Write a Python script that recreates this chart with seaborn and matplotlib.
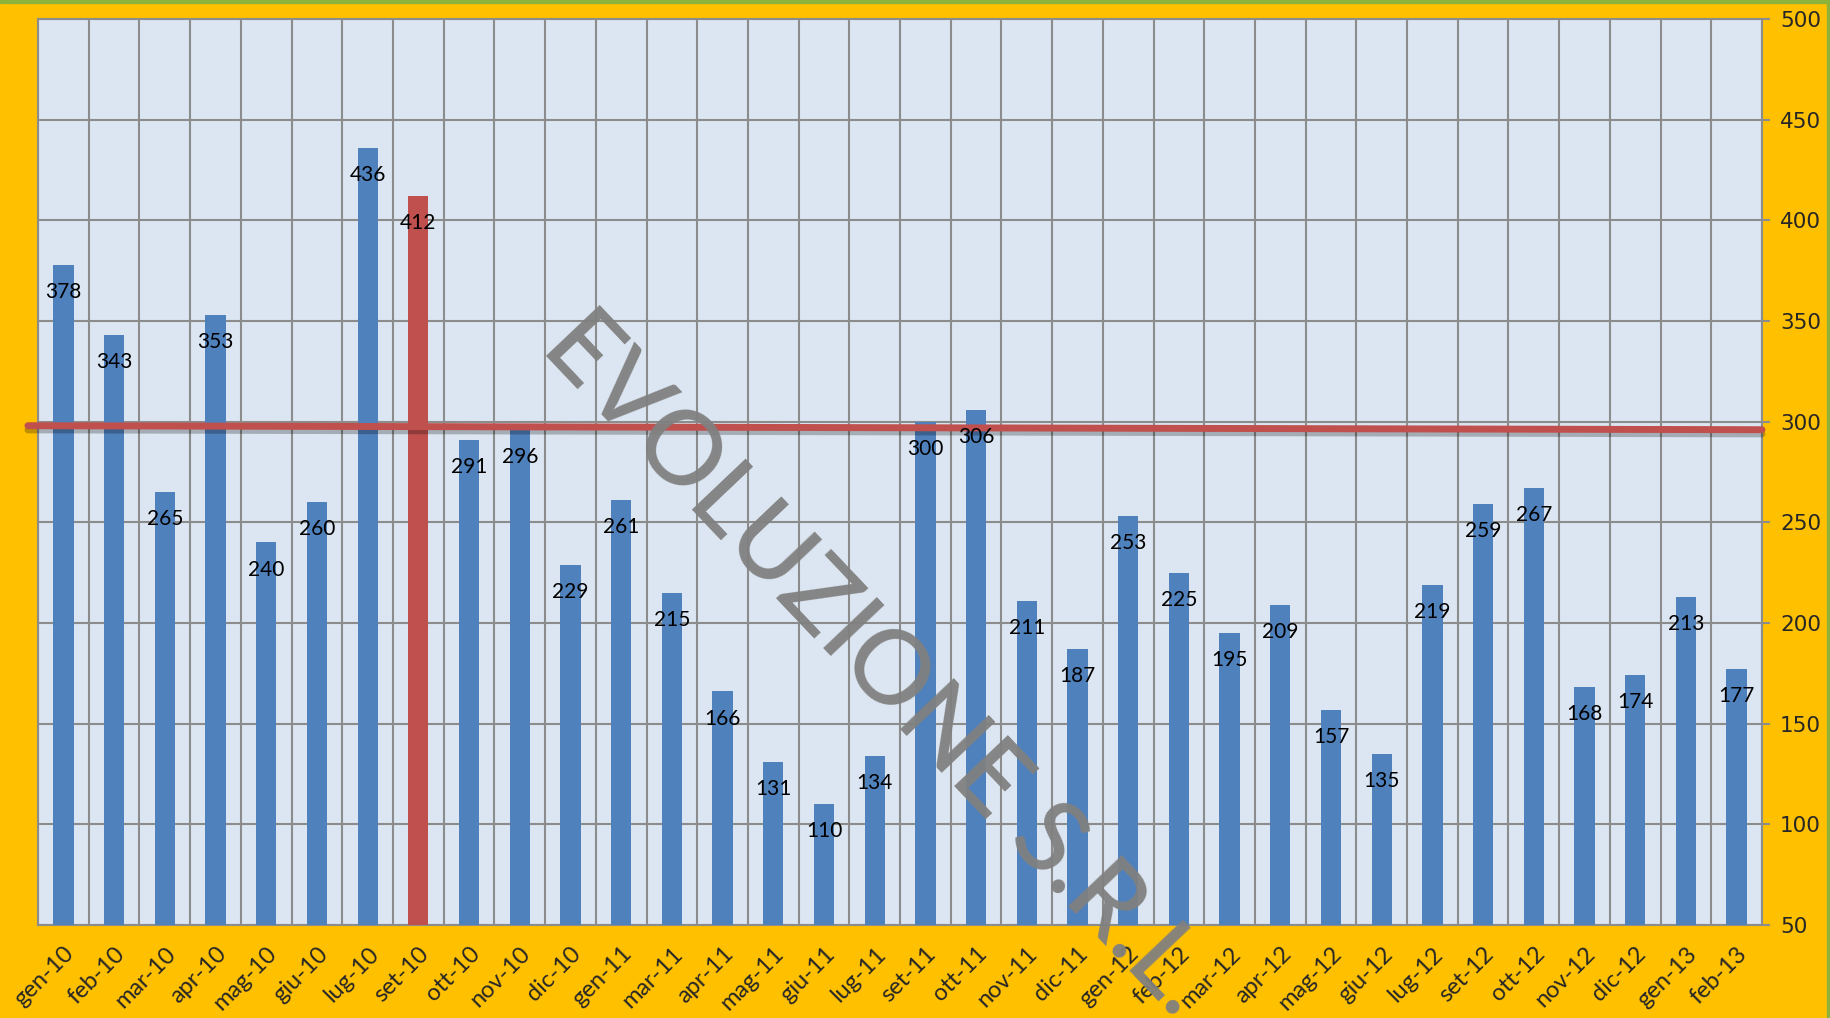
import matplotlib
matplotlib.use('Agg')
import matplotlib.pyplot as plt
import matplotlib.patheffects as pe
from matplotlib.patches import Rectangle
import seaborn as sns
import pandas as pd

# Data
months = ['gen-10', 'feb-10', 'mar-10', 'apr-10', 'mag-10', 'giu-10', 'lug-10', 'set-10',
          'ott-10', 'nov-10', 'dic-10', 'gen-11', 'mar-11', 'apr-11', 'mag-11', 'giu-11',
          'lug-11', 'set-11', 'ott-11', 'nov-11', 'dic-11', 'gen-12', 'feb-12', 'mar-12',
          'apr-12', 'mag-12', 'giu-12', 'lug-12', 'set-12', 'ott-12', 'nov-12', 'dic-12',
          'gen-13', 'feb-13']
values = [378, 343, 265, 353, 240, 260, 436, 412, 291, 296, 229, 261, 215, 166, 131, 110,
          134, 300, 306, 211, 187, 253, 225, 195, 209, 157, 135, 219, 259, 267, 168, 174,
          213, 177]
highlight = 'set-10'
ref_line = [298, 296]  # red reference line, left / right end
yticks = list(range(50, 501, 50))

BLUE = '#4F81BD'
RED = '#C0504D'
ORANGE = '#FFC000'
PLOT_BG = '#DCE6F2'
GRID = '#8C8C8C'

sns.set_style('white')
plt.rcParams['font.family'] = ['Lato', 'DejaVu Sans']

df = pd.DataFrame({'month': months, 'value': values})
colors = {m: (RED if m == highlight else BLUE) for m in months}

fig = plt.figure(figsize=(18.31, 10.18), dpi=100, facecolor=ORANGE)
ax = fig.add_axes([0.0208, 0.0914, 0.9415, 0.8899])
ax.set_facecolor(PLOT_BG)

sns.barplot(data=df, x='month', y='value', hue='month', palette=colors, legend=False,
            width=0.4, saturation=1, linewidth=0, ax=ax, zorder=3)

ax.set_ylim(50, 500)
ax.set_xlim(-0.5, len(months) - 0.5)
ax.set_yticks(yticks)
ax.set_yticklabels([str(t) for t in yticks], family='DejaVu Sans')
ax.yaxis.tick_right()
ax.tick_params(axis='y', which='major', length=6, width=1.5, color=GRID, pad=7, labelsize=15.5)

# x: labels at bar centers, tick marks/grid at category boundaries
ax.set_xticks(range(len(months)))
ax.set_xticklabels(months, rotation=45, ha='right', rotation_mode='anchor', fontsize=17)
ax.tick_params(axis='x', which='major', length=0, pad=13)
ax.set_xticks([i + 0.5 for i in range(-1, len(months))], minor=True)
ax.tick_params(axis='x', which='minor', length=8, width=1.5, color=GRID)

ax.grid(True, axis='y', which='major', color=GRID, linewidth=1.5, zorder=0)
ax.grid(True, axis='x', which='minor', color=GRID, linewidth=1.5, zorder=0)
ax.set_axisbelow(True)
for s in ax.spines.values():
    s.set_color(GRID)
    s.set_linewidth(1.5)
ax.set_xlabel('')
ax.set_ylabel('')

# value labels inside the top of each bar
for i, v in enumerate(values):
    ax.annotate(str(v), (i, v), xytext=(0, -19.5), textcoords='offset points',
                ha='center', va='center', fontsize=15, color='black', zorder=5)

# red reference line with shadow
ax.plot([-0.7, len(months) - 0.5], ref_line, color=RED, linewidth=5, clip_on=False, zorder=4,
        path_effects=[pe.SimpleLineShadow(offset=(0, -3), alpha=0.25), pe.Normal()])

# watermark
fig.text(0.480, 0.348, 'EVOLUZIONE S.R.L.', rotation=-46.5, rotation_mode='anchor',
         ha='center', va='center', fontsize=74, fontweight='medium',
         color='#808080', alpha=0.95, zorder=10)

# thin green strips at top and right edge
fig.patches.append(Rectangle((0, 0.997), 1, 0.003, transform=fig.transFigure,
                             color='#8DB33A', zorder=0))
fig.patches.append(Rectangle((0.998, 0), 0.002, 1, transform=fig.transFigure,
                             color='#8DB33A', zorder=0))

fig.savefig('out.png', dpi=100, facecolor=ORANGE)
